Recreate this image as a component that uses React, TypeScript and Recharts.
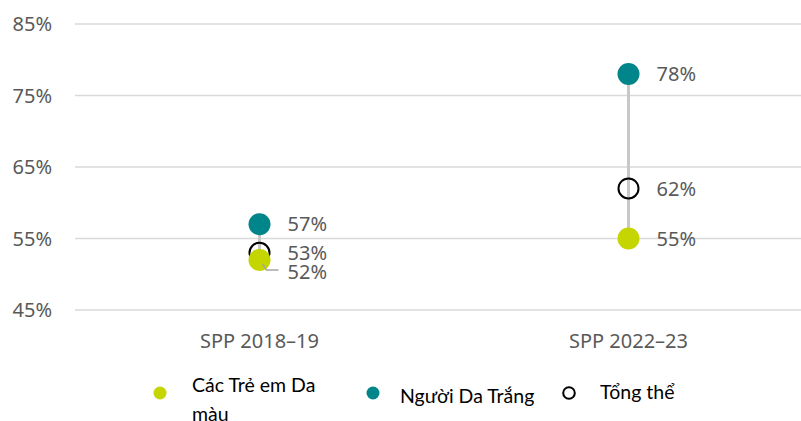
import { ComposedChart, Bar, Line, XAxis, YAxis, CartesianGrid, LabelList } from 'recharts'

const years = ['SPP 2018–19', 'SPP 2022–23']
const mauValues = [52, 55]
const trangValues = [57, 78]
const tongValues = [53, 62]
const yTicks = [45, 55, 65, 75, 85]

const COLOR_MAU = '#c5d500'
const COLOR_TRANG = '#00868a'
const TEXT = '#595959'

const data = years.map((year, i) => ({
  year,
  mau: mauValues[i],
  trang: trangValues[i],
  tong: tongValues[i],
  range: [
    Math.min(mauValues[i], trangValues[i], tongValues[i]),
    Math.max(mauValues[i], trangValues[i], tongValues[i]),
  ],
}))

const labelFont = { fontFamily: '"Noto Sans", sans-serif', fontSize: 20, fill: TEXT }

function PlainLabel(props: any) {
  const { x, y, value } = props
  return (
    <text x={x + 28} y={y} dy="0.36em" {...labelFont}>
      {value}%
    </text>
  )
}

// nhãn của "Các Trẻ em Da màu" bị đẩy xuống khi sát nhãn tổng thể
function MauLabel(props: any) {
  const { x, y, value, index } = props
  const crowded = Math.abs(mauValues[index] - tongValues[index]) < 2
  if (!crowded) return <PlainLabel {...props} />
  return (
    <g>
      <path
        d={`M${x + 3},${y + 4} L${x + 7},${y + 10} L${x + 19},${y + 10}`}
        stroke="#a6a6a6"
        strokeWidth={1.5}
        fill="none"
      />
      <text x={x + 28} y={y + 12} dy="0.36em" {...labelFont}>
        {value}%
      </text>
    </g>
  )
}

const legendItems = [
  { name: 'Các Trẻ em Da màu', kind: 'mau', dotX: 160, dotY: 393, textX: 192, textTop: 370, width: 135 },
  { name: 'Người Da Trắng', kind: 'trang', dotX: 373, dotY: 393, textX: 400, textTop: 381, width: 160 },
  { name: 'Tổng thể', kind: 'tong', dotX: 569, dotY: 393, textX: 600, textTop: 377, width: 100 },
]

function LegendMark({ kind }: { kind: string }) {
  return (
    <svg width={16} height={16} style={{ display: 'block' }}>
      {kind === 'tong' ? (
        <circle cx={8} cy={8} r={5.8} fill="none" stroke="#000" strokeWidth={2} />
      ) : (
        <circle cx={8} cy={8} r={6.5} fill={kind === 'mau' ? COLOR_MAU : COLOR_TRANG} />
      )}
    </svg>
  )
}

export default function App() {
  return (
    <div
      style={{
        position: 'absolute',
        left: 0,
        top: 0,
        width: 801,
        height: 421,
        overflow: 'hidden',
        background: '#fff',
      }}
    >
      <ComposedChart
        width={813}
        height={421}
        data={data}
        margin={{ top: 24, right: 0, left: 0, bottom: 71 }}
      >
        <CartesianGrid vertical={false} stroke="#d9d9d9" strokeWidth={1.5} />
        <XAxis
          dataKey="year"
          axisLine={false}
          tickLine={false}
          tickMargin={18}
          height={40}
          tick={{ ...labelFont }}
        />
        <YAxis
          domain={[45, 85]}
          ticks={yTicks}
          axisLine={false}
          tickLine={false}
          width={75}
          tickMargin={17}
          tickFormatter={(v) => `${v}%`}
          tick={{ ...labelFont }}
        />
        <Bar dataKey="range" barSize={3} fill="#c8c8c8" isAnimationActive={false} />
        <Line
          dataKey="tong"
          stroke="none"
          dot={{ r: 10, fill: 'none', stroke: '#000', strokeWidth: 2 }}
          activeDot={false}
          isAnimationActive={false}
        >
          <LabelList dataKey="tong" content={<PlainLabel />} />
        </Line>
        <Line
          dataKey="mau"
          stroke="none"
          dot={{ r: 11, fill: COLOR_MAU, stroke: 'none' }}
          activeDot={false}
          isAnimationActive={false}
        >
          <LabelList dataKey="mau" content={<MauLabel />} />
        </Line>
        <Line
          dataKey="trang"
          stroke="none"
          dot={{ r: 11, fill: COLOR_TRANG, stroke: 'none' }}
          activeDot={false}
          isAnimationActive={false}
        >
          <LabelList dataKey="trang" content={<PlainLabel />} />
        </Line>
      </ComposedChart>
      {legendItems.map((it) => (
        <div key={it.kind}>
          <div style={{ position: 'absolute', left: it.dotX - 8, top: it.dotY - 8 }}>
            <LegendMark kind={it.kind} />
          </div>
          <div
            style={{
              position: 'absolute',
              left: it.textX,
              top: it.textTop,
              width: it.width,
              lineHeight: '29px',
              fontFamily: 'Lato, sans-serif',
              fontSize: 19.5,
              color: '#000',
            }}
          >
            {it.name}
          </div>
        </div>
      ))}
    </div>
  )
}
